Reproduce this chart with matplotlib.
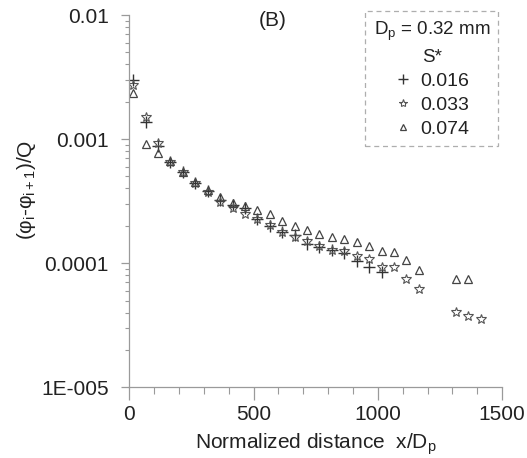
import numpy as np
import matplotlib
matplotlib.use("Agg")
import matplotlib.pyplot as plt
from matplotlib.lines import Line2D
from matplotlib.ticker import LogLocator, MultipleLocator, NullFormatter

plt.rcParams["font.family"] = ["Liberation Sans", "DejaVu Sans"]
plt.rcParams["mathtext.fontset"] = "custom"
plt.rcParams["mathtext.rm"] = "Liberation Sans"
plt.rcParams["mathtext.it"] = "Liberation Sans"

# normalized distance x/Dp for each station
x_all = [15, 65, 115, 165, 215, 265, 315, 365, 415, 465, 515, 565, 615, 665,
         715, 765, 815, 865, 915, 965, 1015, 1065, 1115, 1165, 1315, 1365, 1415]

# S* = 0.016 (plus)
x_016 = x_all[:21]
y_016 = [0.00299, 0.00138, 0.00088, 0.00066, 0.000546, 0.000445, 0.000382,
         0.000325, 0.000294, 0.000280, 0.000226, 0.000200, 0.000179, 0.000169,
         0.000143, 0.000134, 0.000128, 0.000120, 0.000105, 0.0000937, 0.0000850]

# S* = 0.033 (star)
x_033 = x_all
y_033 = [0.00273, 0.00152, 0.000935, 0.000650, 0.000546, 0.000440, 0.000378,
         0.000313, 0.000277, 0.000250, 0.000228, 0.000203, 0.000179, 0.000164,
         0.000152, 0.000138, 0.000128, 0.000126, 0.000114, 0.000108, 0.0000937,
         0.0000937, 0.0000746, 0.0000619, 0.0000407, 0.0000375, 0.0000355]

# S* = 0.074 (triangle)
x_074 = x_all[:26]
y_074 = [0.00237, 0.000912, 0.000776, 0.000668, 0.000546, 0.000448, 0.000392,
         0.000344, 0.000304, 0.000290, 0.000269, 0.000249, 0.000220, 0.000200,
         0.000185, 0.000172, 0.000164, 0.000156, 0.000149, 0.000138, 0.000125,
         0.000124, 0.000106, 0.0000881, 0.0000746, 0.0000746]

y_ticks = [1e-5, 1e-4, 1e-3, 1e-2]
y_tick_labels = ["1E-005", "0.0001", "0.001", "0.01"]
x_ticks = [0, 500, 1000, 1500]

fig = plt.figure(figsize=(5.27, 4.58), dpi=100)
ax = fig.add_axes([0.2457, 0.1544, 0.7069, 0.8128])

ax.plot(x_016, y_016, linestyle="none", marker="+", ms=8, mew=1.0, color="#333333")
ax.plot(x_033, y_033, linestyle="none", marker="*", ms=7.5, mew=0.8,
        mfc="none", mec="#555555")
ax.plot(x_074, y_074, linestyle="none", marker="^", ms=6, mew=0.9,
        mfc="none", mec="#444444")

ax.set_yscale("log")
ax.set_ylim(1e-5, 1e-2)
ax.set_xlim(0, 1500)
ax.set_yticks(y_ticks, y_tick_labels)
ax.yaxis.set_minor_locator(LogLocator(base=10, subs=np.arange(2, 10)))
ax.yaxis.set_minor_formatter(NullFormatter())
ax.set_xticks(x_ticks)
ax.xaxis.set_minor_locator(MultipleLocator(100))

for side in ["top", "right"]:
    ax.spines[side].set_visible(False)
for side in ["left", "bottom"]:
    ax.spines[side].set_color("#9a9a9a")
    ax.spines[side].set_linewidth(0.9)

ax.tick_params(axis="both", which="both", direction="out", color="#9a9a9a",
               labelsize=15, labelcolor="#222222")
ax.tick_params(axis="y", which="major", length=6, width=0.9, pad=9)
ax.tick_params(axis="y", which="minor", length=3, width=0.8)
ax.tick_params(axis="x", which="major", length=9.5, width=0.9, pad=3)
ax.tick_params(axis="x", which="minor", length=5, width=0.8)

ax.set_xlabel("Normalized distance  x/D$_\\mathrm{p}$", fontsize=15, color="#222222")
ax.xaxis.set_label_coords(0.5, -0.12)
ax.set_ylabel("($φ_\\mathrm{i}$-$φ_\\mathrm{i+1}$)/Q", fontsize=15, color="#222222")
ax.yaxis.set_label_coords(-0.245, 0.53)

ax.text(0.385, 0.985, "(B)", transform=ax.transAxes, fontsize=15,
        ha="center", va="center", color="#222222")

handles = [
    Line2D([], [], linestyle="none", marker="+", ms=7, mew=1.0, color="#333333"),
    Line2D([], [], linestyle="none", marker="*", ms=6, mew=0.8, mfc="none", mec="#555555"),
    Line2D([], [], linestyle="none", marker="^", ms=4.5, mew=0.9, mfc="none", mec="#444444"),
]
leg = ax.legend(handles, ["0.016", "0.033", "0.074"],
                title="D$_\\mathrm{p}$ = 0.32 mm\nS*",
                loc="upper right", bbox_to_anchor=(0.99, 1.01),
                fontsize=14, title_fontsize=13.5, frameon=True, fancybox=False,
                handlelength=0.9, handletextpad=0.45, labelspacing=0.32,
                borderpad=0.42, borderaxespad=0.0)
frame = leg.get_frame()
frame.set_linestyle((0, (4, 3)))
frame.set_edgecolor("#9a9a9a")
frame.set_linewidth(0.9)
title = leg.get_title()
title.set_color("#222222")
title.set_multialignment("center")
title.set_linespacing(1.5)
for t in leg.get_texts():
    t.set_color("#222222")

fig.savefig("out.png", dpi=100)
